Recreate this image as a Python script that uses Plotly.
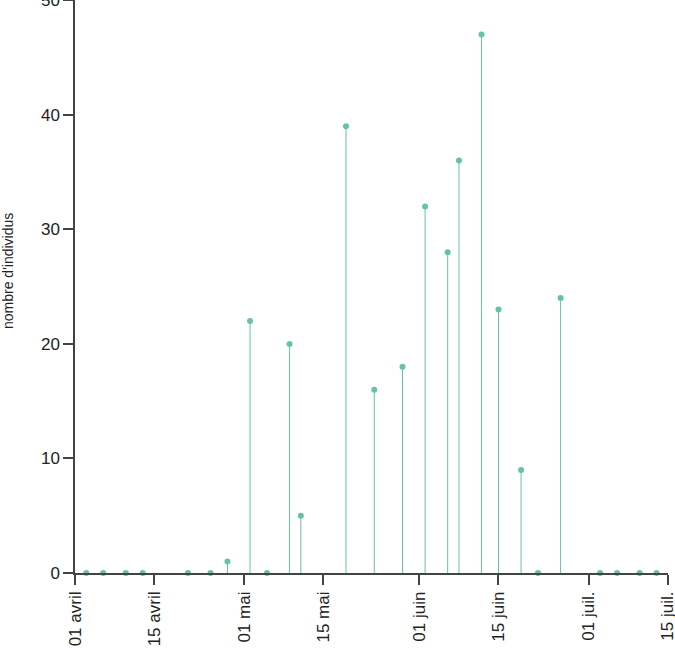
import plotly.graph_objects as go

dates = ["2021-04-03", "2021-04-06", "2021-04-10", "2021-04-13", "2021-04-21",
         "2021-04-25", "2021-04-28", "2021-05-02", "2021-05-05", "2021-05-09",
         "2021-05-11", "2021-05-19", "2021-05-24", "2021-05-29", "2021-06-02",
         "2021-06-06", "2021-06-08", "2021-06-12", "2021-06-15", "2021-06-19",
         "2021-06-22", "2021-06-26", "2021-07-03", "2021-07-06", "2021-07-10",
         "2021-07-13"]
counts = [0, 0, 0, 0, 0, 0, 1, 22, 0, 20, 5, 39, 16, 18, 32, 28, 36, 47, 23, 9,
          0, 24, 0, 0, 0, 0]

tick_vals = ["2021-04-01", "2021-04-15", "2021-05-01", "2021-05-15",
             "2021-06-01", "2021-06-15", "2021-07-01", "2021-07-15"]
tick_text = ["01 avril", "15 avril", "01 mai", "15 mai",
             "01 juin", "15 juin", "01 juil.", "15 juil."]

color = "#66c2a5"

stem_x, stem_y = [], []
for d, v in zip(dates, counts):
    stem_x += [d, d, None]
    stem_y += [0, v, None]

fig = go.Figure()
fig.add_trace(go.Scatter(x=stem_x, y=stem_y, mode="lines",
                         line=dict(color=color, width=1), hoverinfo="skip",
                         cliponaxis=False))
fig.add_trace(go.Scatter(x=dates, y=counts, mode="markers",
                         marker=dict(color=color, size=6), cliponaxis=False))

axis_color = "#444444"
fig.update_layout(
    width=675, height=648,
    margin=dict(l=75, r=7, t=0, b=75),
    plot_bgcolor="white", paper_bgcolor="white",
    showlegend=False,
    font=dict(family="Liberation Sans, Arial, sans-serif", color="#222222"),
    xaxis=dict(
        type="date", range=["2021-04-01", "2021-07-15 00:30"],
        tickvals=tick_vals, ticktext=tick_text, tickangle=-90,
        ticklabeloverflow="allow", automargin=False,
        showgrid=False, zeroline=False, showline=True, linecolor=axis_color,
        linewidth=1.5, ticks="outside", ticklen=10, tickwidth=1.5,
        tickcolor=axis_color, tickfont=dict(size=17, color="#222222"),
    ),
    yaxis=dict(
        range=[0, 50.02], tickvals=[0, 10, 20, 30, 40, 50],
        ticklabeloverflow="allow", automargin=False,
        showgrid=False, zeroline=False, showline=True, linecolor=axis_color,
        linewidth=1.5, ticks="outside", ticklen=10, tickwidth=1.5,
        tickcolor=axis_color, tickfont=dict(size=17, color="#222222"),
    ),
    annotations=[dict(
        text="nombre d'individus", textangle=-90, showarrow=False,
        xref="paper", yref="paper", x=-67/593, y=1 - 271/573,
        xanchor="center", yanchor="middle",
        font=dict(size=14, color="#222222"),
    )],
)

fig.write_html("out.html")
